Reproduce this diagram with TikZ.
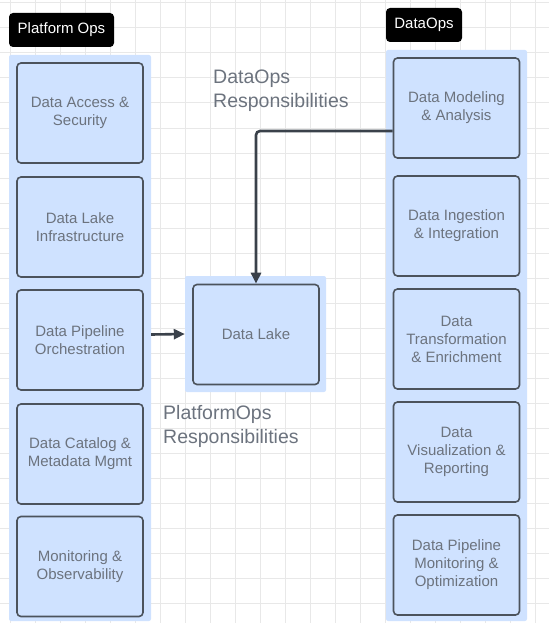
\documentclass[tikz,border=0pt]{standalone}
\usepackage{fontspec}
\setmainfont{Liberation Sans}
\usepackage{tikz}
\usetikzlibrary{arrows.meta}

\definecolor{laneblue}{RGB}{207,226,255}
\definecolor{boxline}{RGB}{76,83,92}
\definecolor{boxtext}{RGB}{108,115,126}
\definecolor{flowline}{RGB}{58,65,74}
\definecolor{gridgray}{RGB}{232,232,232}

\begin{document}
\begin{tikzpicture}[x=1pt,y=-1pt,
        lane/.style={fill=laneblue,draw=none,rounded corners=2pt,inner sep=0pt},
        task/.style={draw=boxline,line width=1.6pt,fill=laneblue,rounded corners=4pt,
          minimum width=126pt,minimum height=100pt,inner sep=2pt,align=center,
          text=boxtext,font=\fontsize{15}{18}\selectfont},
        tag/.style={fill=black,rounded corners=4pt,text=white,inner sep=0pt,
          minimum height=34pt,font=\fontsize{15}{18}\selectfont},
        note/.style={anchor=north west,inner sep=0pt,align=left,text=boxtext,
          font=\fontsize{19.5}{24}\selectfont},
        flow/.style={draw=flowline,line width=2.6pt,-{Triangle[length=11pt,width=10pt]}}]
        \useasboundingbox (0,0) rectangle (549,623);

        % grid paper
        \foreach \x in {10,35,...,535}
          \draw[gridgray,line width=1pt] (\x,0) -- (\x,623);
        \foreach \y in {3,28,...,603}
          \draw[gridgray,line width=1pt] (0,\y) -- (549,\y);

        % lanes
        \node[lane,minimum width=142pt,minimum height=566pt] (lcol) at (80, 338) {};
        \node[lane,minimum width=141pt,minimum height=571pt] (rcol) at (456.5, 335.5) {};
        \node[lane,minimum width=141pt,minimum height=116pt] (lakebg) at (255.5, 334) {};

        \node[tag,minimum width=105pt] (pops) at (61.5, 30) {Platform Ops};
        \node[tag,minimum width=76pt] (dops) at (424, 25) {DataOps};

        % platform ops column
        \node[task] (l1) at (80, 113) {Data Access \&\\Security};
        \node[task] (l2) at (80, 227) {Data Lake\\Infrastructure};
        \node[task] (l3) at (80, 340) {Data Pipeline\\Orchestration};
        \node[task] (l4) at (80, 454) {Data Catalog \&\\Metadata Mgmt};
        \node[task] (l5) at (80, 566.5) {Monitoring \&\\Observability};

        % dataops column
        \node[task] (r1) at (456.5, 108) {Data Modeling\\\& Analysis};
        \node[task] (r2) at (456.5, 226) {Data Ingestion\\\& Integration};
        \node[task] (r3) at (456.5, 339) {Data\\Transformation\\\& Enrichment};
        \node[task] (r4) at (456.5, 452) {Data\\Visualization \&\\Reporting};
        \node[task] (r5) at (456.5, 565) {Data Pipeline\\Monitoring \&\\Optimization};

        \node[task] (lake) at (256, 334.5) {Data Lake};

        \node[note] (dresp) at (213, 70) {DataOps\\Responsibilities};
        \node[note] (presp) at (163, 405) {PlatformOps\\Responsibilities};

        \coordinate (feed) at ([yshift=-23pt]r1.west);
        \draw[flow,rounded corners=4pt] (feed) -| (lake.north);
        \draw[flow] (lcol.east |- lake.west) to (lakebg.west);
      \end{tikzpicture}
\end{document}
